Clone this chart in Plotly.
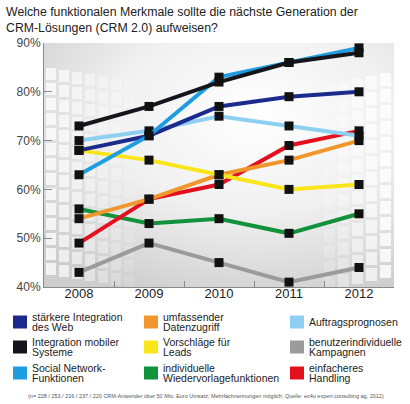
import base64
import plotly.graph_objects as go

years = ["2008", "2009", "2010", "2011", "2012"]

web_integration = [68, 71, 77, 79, 80]
mobile_integration = [73, 77, 82, 86, 88]
social_network = [63, 71, 83, 86, 89]
data_access = [54, 58, 63, 66, 70]
lead_suggestions = [68, 66, 63, 60, 61]
resubmission = [56, 53, 54, 51, 55]
order_forecast = [70, 72, 75, 73, 71]
campaigns = [43, 49, 45, 41, 44]
handling = [49, 58, 61, 69, 72]

names = {
    "web": ["stärkere Integration", "des Web"],
    "mobile": ["Integration mobiler", "Systeme"],
    "social": ["Social Network-", "Funktionen"],
    "data": ["umfassender", "Datenzugriff"],
    "lead": ["Vorschläge für", "Leads"],
    "resub": ["individuelle", "Wiedervorlagefunktionen"],
    "forecast": ["Auftragsprognosen"],
    "camp": ["benutzerindividuelle", "Kampagnen"],
    "handling": ["einfacheres", "Handling"],
}
colors = {
    "web": "#1b2a8c",
    "mobile": "#15151c",
    "social": "#1e9ee0",
    "data": "#f0962c",
    "lead": "#f9e61a",
    "resub": "#13923c",
    "forecast": "#8fd0f2",
    "camp": "#9b9b9b",
    "handling": "#e3111f",
}
values = {
    "web": web_integration, "mobile": mobile_integration, "social": social_network,
    "data": data_access, "lead": lead_suggestions, "resub": resubmission,
    "forecast": order_forecast, "camp": campaigns, "handling": handling,
}
draw_order = ["camp", "resub", "handling", "data", "lead", "forecast", "web", "social", "mobile"]
legend_grid = [["web", "data", "forecast"], ["mobile", "lead", "camp"], ["social", "resub", "handling"]]

title_lines = ["Welche funktionalen Merkmale sollte die nächste Generation der",
               "CRM-Lösungen (CRM 2.0) aufweisen?"]
footer = ("(n= 228 / 253 / 216 / 237 / 220 CRM-Anwender über 50 Mio. Euro Umsatz; "
          "Mehrfachnennungen möglich; Quelle: ec4u expert consulting ag, 2012)")

# plot area in pixels (for placing decorations)
L, R, T, B = 44, 394, 43, 287
FONT = "Liberation Sans, Arial, sans-serif"


def px(x):
    return (x - L) / (R - L)


def py(y):
    return (B - y) / (B - T)


# decorative background (gradient + light tiles)
W, H = R - L, B - T
parts = [f'<svg xmlns="http://www.w3.org/2000/svg" width="{W}" height="{H}" viewBox="0 0 {W} {H}">',
         '<defs><radialGradient id="g" cx="0.6" cy="0.3" r="0.8">'
         '<stop offset="0" stop-color="#ffffff"/><stop offset="0.5" stop-color="#f0f0f0"/>'
         '<stop offset="1" stop-color="#cdcdcd"/></radialGradient></defs>',
         f'<rect width="{W}" height="{H}" fill="url(#g)"/>']
for col in range(7):
    for row in range(14):
        x = 2 + col * 13
        y = 25 + row * 15 + col * 2
        op = max(0.0, 0.75 - col * 0.1)
        parts.append(f'<rect x="{x}" y="{y}" width="10" height="12" fill="#ffffff" opacity="{op:.2f}"/>')
for col in range(5):
    for row in range(13):
        x = W - 14 - col * 14
        y = 30 + row * 16 + col * 3
        op = max(0.0, 0.8 - col * 0.15)
        parts.append(f'<rect x="{x}" y="{y}" width="11" height="13" fill="#ffffff" opacity="{op:.2f}"/>')
parts.append('</svg>')
svg_uri = "data:image/svg+xml;base64," + base64.b64encode("".join(parts).encode()).decode()

fig = go.Figure()
for key in draw_order:
    fig.add_trace(go.Scatter(
        x=years, y=values[key], mode="lines+markers", name=" ".join(names[key]),
        line=dict(color=colors[key], width=4),
        marker=dict(symbol="square", size=9, color="#111111"),
        showlegend=False,
    ))

# custom legend
col_sq_x = [13, 144, 290]
row_cy = [322, 347, 373]
shapes = []
annotations = []
for r, row in enumerate(legend_grid):
    for c, key in enumerate(row):
        x0 = col_sq_x[c]
        yc = row_cy[r]
        shapes.append(dict(type="rect", xref="paper", yref="paper", x0=px(x0), x1=px(x0 + 14),
                           y0=py(yc + 6.5), y1=py(yc - 6.5), fillcolor=colors[key], line=dict(width=0)))
        lines = names[key]
        offs = [0] if len(lines) == 1 else [-5, 4.5]
        for text, off in zip(lines, offs):
            annotations.append(dict(xref="paper", yref="paper", x=px(x0 + 17), y=py(yc + off),
                                    xanchor="left", yanchor="middle", text=text, showarrow=False,
                                    font=dict(size=10.5, color="#222222", family=FONT)))

for i, (text, yy) in enumerate(zip(title_lines, [12, 28])):
    annotations.append(dict(xref="paper", yref="paper", x=px(4), y=py(yy), xanchor="left", yanchor="middle",
                            text=text, showarrow=False, font=dict(size=12.3, color="#222222", family=FONT)))

annotations.append(dict(xref="paper", yref="paper", x=px(206), y=py(396), xanchor="center", yanchor="middle",
                        text=footer, showarrow=False, font=dict(size=5.5, color="#555555", family=FONT)))

fig.update_layout(
    width=410, height=404,
    margin=dict(l=L, r=410 - R, t=T, b=404 - B),
    paper_bgcolor="white", plot_bgcolor="#e6e6e6",
    font=dict(family=FONT, color="#333333"),
    shapes=shapes, annotations=annotations,
    images=[dict(source=svg_uri, xref="paper", yref="paper", x=0, y=1, sizex=1, sizey=1,
                 sizing="stretch", xanchor="left", yanchor="top", layer="below")],
    xaxis=dict(type="category", range=[-0.5, 4.5], showgrid=False, showline=True, linecolor="#8a8a8a",
               linewidth=1, ticks="inside", tickson="boundaries", ticklen=6, tickcolor="#8a8a8a",
               tickfont=dict(size=13, color="#222222"), ticklabelstandoff=-6, fixedrange=True),
    yaxis=dict(range=[40, 90], dtick=10, ticksuffix="%", showgrid=False, showline=True, linecolor="#8a8a8a",
               linewidth=1, ticks="inside", ticklen=8, tickcolor="#8a8a8a",
               tickfont=dict(size=12, color="#444444"), zeroline=False, fixedrange=True),
)

fig.write_html("out.html", config={"displayModeBar": False},
               post_script="document.body.style.margin='0';document.body.style.overflow='hidden';")
